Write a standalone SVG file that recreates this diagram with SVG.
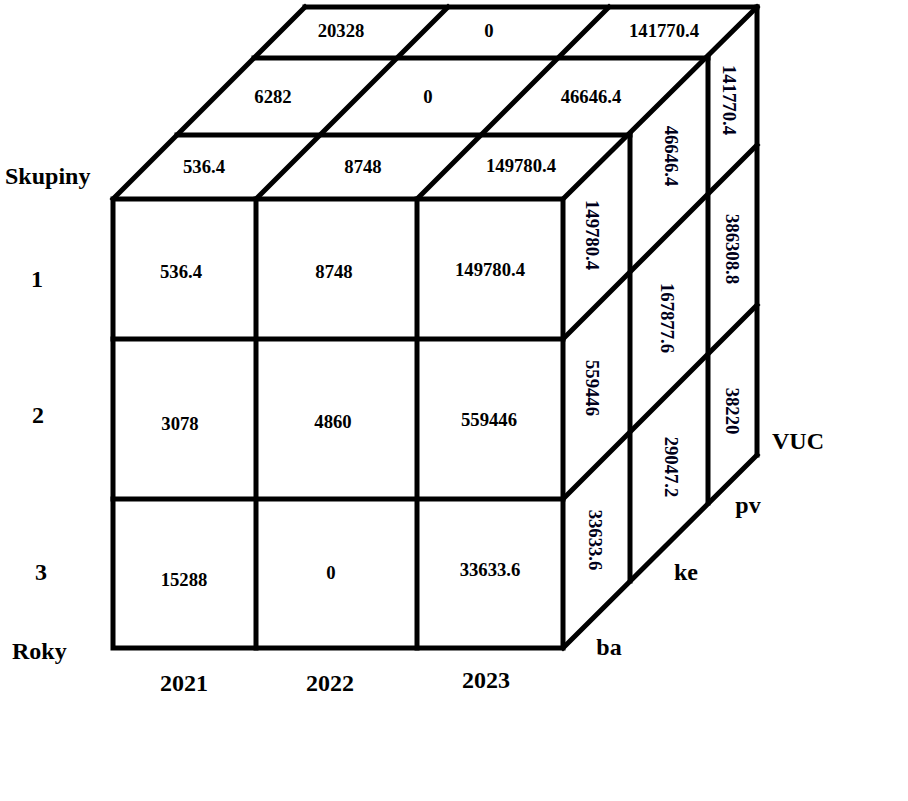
<svg xmlns="http://www.w3.org/2000/svg" width="908" height="801" viewBox="0 0 908 801">
<style>
.ln{fill:none;stroke:#000;stroke-width:5;stroke-linecap:square;stroke-linejoin:miter}
.v{font-family:"Liberation Serif","Times New Roman",serif;font-weight:bold;font-size:18.7px;fill:#000;text-anchor:middle}
.s{font-family:"Liberation Serif","Times New Roman",serif;font-weight:bold;font-size:18.7px;fill:#00001a;text-anchor:middle}
.lb{font-family:"Liberation Serif","Times New Roman",serif;font-weight:bold;font-size:24px;fill:#000}
.c{text-anchor:middle}
</style>
<rect width="908" height="801" fill="#fff"/>
<g id="connectors">
<rect class="ln" x="113" y="199" width="450" height="449"/>
<path class="ln" d="M256 199V648M417 199V648M113 339H563M113 499H563"/>
<path class="ln" d="M177 135H630M254 58H708M305 7H757"/>
<path class="ln" d="M113 199L305 7M256 199L448 7M417 199L609 7M563 199L757 7"/>
<path class="ln" d="M630 135V581M708 58V503M757 7V455"/>
<path class="ln" d="M563 339L757 145M563 499L757 305M563 648L757 455"/>
</g>
<g id="front">
<text class="v" x="181" y="278">536.4</text>
<text class="v" x="334" y="278">8748</text>
<text class="v" x="490" y="276">149780.4</text>
<text class="v" x="180" y="430">3078</text>
<text class="v" x="333" y="428">4860</text>
<text class="v" x="489" y="426">559446</text>
<text class="v" x="184" y="586">15288</text>
<text class="v" x="331" y="579">0</text>
<text class="v" x="490" y="576">33633.6</text>
</g>
<g id="top">
<text class="v" x="204" y="173">536.4</text>
<text class="v" x="363" y="173">8748</text>
<text class="v" x="521" y="172">149780.4</text>
<text class="v" x="273" y="103">6282</text>
<text class="v" x="428" y="103">0</text>
<text class="v" x="591" y="103">46646.4</text>
<text class="v" x="341" y="37">20328</text>
<text class="v" x="489" y="37">0</text>
<text class="v" x="664" y="37">141770.4</text>
</g>
<g id="side">
<text class="s" transform="translate(592 235) rotate(90)" y="6">149780.4</text>
<text class="s" transform="translate(592 388) rotate(90)" y="6">559446</text>
<text class="s" transform="translate(595 540) rotate(90)" y="6">33633.6</text>
<text class="s" transform="translate(671 156) rotate(90)" y="6">46646.4</text>
<text class="s" transform="translate(667 318) rotate(90)" y="6">167877.6</text>
<text class="s" transform="translate(671 467) rotate(90)" y="6">29047.2</text>
<text class="s" transform="translate(729 100) rotate(90)" y="6">141770.4</text>
<text class="s" transform="translate(732 249) rotate(90)" y="6">386308.8</text>
<text class="s" transform="translate(732 411) rotate(90)" y="6">38220</text>
</g>
<g id="labels">
<text class="lb" x="5" y="184">Skupiny</text>
<text class="lb c" x="37" y="287">1</text>
<text class="lb c" x="38" y="423">2</text>
<text class="lb c" x="41" y="580">3</text>
<text class="lb" x="12" y="659">Roky</text>
<text class="lb c" x="184" y="691">2021</text>
<text class="lb c" x="330" y="691">2022</text>
<text class="lb c" x="486" y="688">2023</text>
<text class="lb" x="772" y="449">VUC</text>
<text class="lb c" x="748" y="513">pv</text>
<text class="lb c" x="686" y="580">ke</text>
<text class="lb c" x="609" y="655">ba</text>
</g>
</svg>
